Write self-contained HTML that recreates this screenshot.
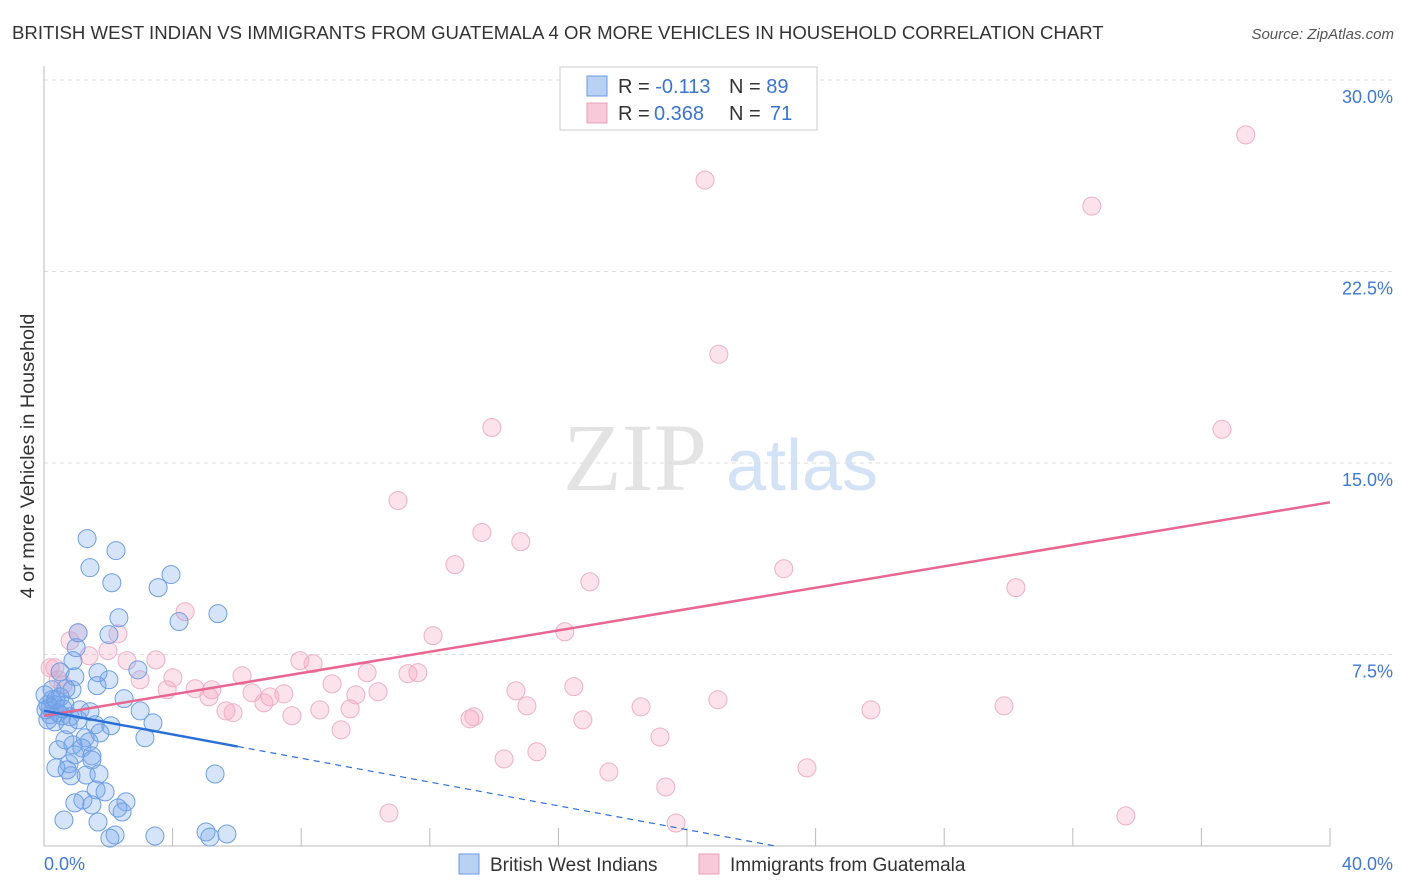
<!DOCTYPE html>
<html><head><meta charset="utf-8"><style>
body{margin:0;background:#fff;font-family:"Liberation Sans",sans-serif;}
svg{display:block}
</style></head><body>
<svg width="1406" height="892" xmlns="http://www.w3.org/2000/svg">
<text x="12" y="39" font-size="18.6" fill="#333">BRITISH WEST INDIAN VS IMMIGRANTS FROM GUATEMALA 4 OR MORE VEHICLES IN HOUSEHOLD CORRELATION CHART</text>
<text x="1394" y="39" font-size="15" fill="#555" font-style="italic" text-anchor="end">Source: ZipAtlas.com</text>
<text x="34" y="456" font-size="19.8" fill="#333" text-anchor="middle" transform="rotate(-90 34 456)">4 or more Vehicles in Household</text>
<g><text x="635" y="490" font-size="96" fill="#e3e3e3" font-family="Liberation Serif,serif" text-anchor="middle">ZIP</text><text x="802" y="490" font-size="72" fill="#d3e2f5" text-anchor="middle">atlas</text></g>
<g id="grid"></g><g id="axes"></g><g id="pts"></g><g id="trend"></g>
<g>
<rect x="560" y="67" width="257" height="63" fill="#fff" stroke="#ccc"/>
<rect x="587" y="76" width="20" height="20" fill="#b9d2f3" stroke="#6b9be0"/>
<rect x="587" y="103" width="20" height="20" fill="#f8c9d8" stroke="#e9a0b9"/>
<text x="618" y="93" font-size="20" fill="#333">R = <tspan fill="#3a73d0">-0.113</tspan></text>
<text x="729" y="93" font-size="20" fill="#333">N = <tspan fill="#3a73d0">89</tspan></text>
<text x="618" y="120" font-size="20" fill="#333">R = <tspan fill="#3a73d0" x="654">0.368</tspan></text>
<text x="729" y="120" font-size="20" fill="#333">N = <tspan fill="#3a73d0" x="770">71</tspan></text>
</g>
<g>
<rect x="459" y="854" width="20" height="20" fill="#b9d2f3" stroke="#6b9be0"/>
<text x="490" y="871" font-size="19" fill="#333">British West Indians</text>
<rect x="699" y="854" width="20" height="20" fill="#f8c9d8" stroke="#e9a0b9"/>
<text x="730" y="871" font-size="19" fill="#333">Immigrants from Guatemala</text>
</g>
</svg>
<script>
const yTicks=[7.5,15,22.5,30];
const yTickLabels=["7.5%","15.0%","22.5%","30.0%"];
const xTickLabels=["0.0%","40.0%"];
const blueX=[1.34,2.24,1.43,2.11,3.95,3.55,2.33,5.41,4.20,2.02,1.06,1.00,0.50,0.90,0.96,1.68,2.02,2.92,1.65,0.87,0.25,0.50,2.49,0.12,0.34,0.65,1.12,1.43,0.19,0.56,2.99,0.34,0.81,1.59,2.08,3.39,1.28,0.65,0.90,1.40,3.14,0.44,1.18,1.49,0.96,0.78,1.49,0.37,0.84,1.31,1.71,5.32,1.62,1.90,1.21,0.96,1.49,2.55,2.30,2.43,0.62,1.68,3.45,5.04,5.16,5.69,2.21,2.05,0.12,0.25,0.06,0.44,0.75,1.74,0.72,0.03,0.19,0.37,0.59,1.06,0.68];
const blueY=[12.04,11.57,10.90,10.31,10.63,10.12,8.94,9.10,8.79,8.28,8.35,7.77,6.82,7.26,6.63,6.79,6.51,6.90,6.28,6.12,6.12,5.84,5.77,5.53,5.53,5.53,5.33,5.26,5.14,5.10,5.29,4.86,5.06,4.75,4.71,4.82,4.24,4.16,3.96,4.08,4.24,3.77,3.84,3.53,3.57,3.22,3.37,3.06,2.75,2.78,2.82,2.82,2.20,2.12,1.80,1.69,1.61,1.73,1.49,1.33,1.02,0.94,0.39,0.55,0.35,0.47,0.43,0.31,4.94,5.73,5.33,5.22,4.75,4.43,2.98,5.92,5.41,5.73,5.37,4.94,6.16];
const pinkX=[37.38,20.56,32.59,20.99,13.93,36.64,11.01,13.62,14.83,12.78,16.98,23.01,30.23,4.39,1.06,2.30,12.10,16.20,0.81,1.99,1.40,2.58,3.48,7.96,8.37,0.34,10.05,11.32,11.63,6.16,4.01,2.99,0.59,8.96,4.70,3.83,5.22,6.47,7.46,7.03,5.13,9.70,10.39,14.68,16.48,6.84,8.58,9.52,5.66,5.88,7.71,18.57,20.96,15.02,25.72,29.86,13.25,13.37,16.76,9.24,19.16,15.33,14.31,17.57,23.73,19.34,10.73,19.66,33.65,0.19,0.44];
const pinkY=[27.85,26.08,25.06,19.26,16.39,16.32,13.53,12.28,11.92,11.02,10.35,10.86,10.12,9.18,8.35,8.31,8.24,8.39,8.04,7.65,7.45,7.26,7.29,7.26,7.14,6.98,6.79,6.75,6.79,6.67,6.59,6.51,6.31,6.35,6.16,6.12,6.12,6.00,5.96,5.84,5.84,5.92,6.04,6.08,6.24,5.61,5.33,5.37,5.29,5.22,5.10,5.45,5.73,5.49,5.33,5.49,4.98,5.06,4.94,4.55,4.27,3.69,3.41,2.90,3.06,2.31,1.29,0.90,1.18,6.98,6.51];
const blueTrend=[5.3,-0.233];
const pinkTrend=[5.1,0.209];
const NS='http://www.w3.org/2000/svg';
const X0=44,X1=1330,Y0=846,Y30=80;
const sx=v=>X0+(v/40)*(X1-X0);
const sy=v=>Y0-(v/30)*(Y0-Y30);
function mk(tag,attrs,parent){const e=document.createElementNS(NS,tag);for(const k in attrs)e.setAttribute(k,attrs[k]);parent.appendChild(e);return e;}
const grid=document.getElementById('grid'),axes=document.getElementById('axes'),pts=document.getElementById('pts'),trend=document.getElementById('trend');
yTicks.forEach((t,i)=>{
 const l=mk('line',{x1:X0,x2:1394,y1:sy(t),y2:sy(t),stroke:'#ddd','stroke-dasharray':'4,4'},grid);
 
 
 const tx=mk('text',{x:1393,y:sy(t)+23,'font-size':18,fill:'#3f78d4','text-anchor':'end'},axes);
 tx.textContent=yTickLabels[i];
 
 
});
const ya=mk('line',{x1:X0,x2:X0,y1:66,y2:Y0,stroke:'#bbb'},axes);


const xa=mk('line',{x1:X0,x2:X1,y1:Y0,y2:Y0,stroke:'#bbb'},axes);


for(let v=4;v<=40;v+=4){const t=mk('line',{x1:sx(v),x2:sx(v),y1:Y0-18,y2:Y0,stroke:'#bbb'},axes);
 
 }
const xl0=mk('text',{x:44,y:870,'font-size':18,fill:'#3f78d4'},axes);xl0.textContent=xTickLabels[0];


const xl1=mk('text',{x:1393,y:870,'font-size':18,fill:'#3f78d4','text-anchor':'end'},axes);xl1.textContent=xTickLabels[1];


pinkX.forEach((x,i)=>{const c=mk('circle',{cx:sx(x),cy:sy(pinkY[i]),r:9,fill:'rgba(244,160,190,0.3)',stroke:'#eeb0c6','stroke-width':1},pts);
 
 });
blueX.forEach((x,i)=>{const c=mk('circle',{cx:sx(x),cy:sy(blueY[i]),r:9,fill:'rgba(120,165,235,0.3)',stroke:'#6e9ee2','stroke-width':1},pts);
 
 });
const pl=mk('line',{x1:sx(0),y1:sy(pinkTrend[0]),x2:sx(40),y2:sy(pinkTrend[0]+40*pinkTrend[1]),stroke:'#e8668f','stroke-width':2.5},trend);


const bs=6.03,be=-blueTrend[0]/blueTrend[1];
const bl=mk('line',{x1:sx(0),y1:sy(blueTrend[0]),x2:sx(bs),y2:sy(blueTrend[0]+bs*blueTrend[1]),stroke:'#2a6fd6','stroke-width':2.5},trend);


const bd=mk('line',{x1:sx(bs),y1:sy(blueTrend[0]+bs*blueTrend[1]),x2:sx(be),y2:sy(0),stroke:'#2a6fd6','stroke-width':1.2,'stroke-dasharray':'6,5'},trend);


</script>
</body></html>
